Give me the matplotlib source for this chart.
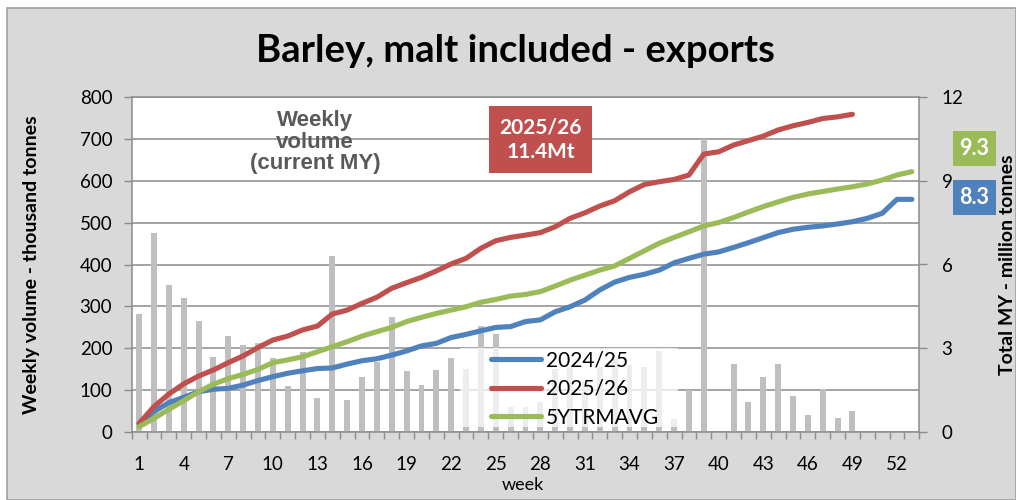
import matplotlib
matplotlib.use("Agg")
import matplotlib.pyplot as plt
from matplotlib.patches import Rectangle
from matplotlib.lines import Line2D
from matplotlib.ticker import FixedLocator

plt.rcParams['font.family'] = ['Lato', 'DejaVu Sans']

# ---------------- data ----------------
weeks = list(range(1, 54))
bar_weeks = list(range(1, 50))
weekly_2025_26 = [282, 474, 351, 320, 266, 180, 230, 207, 214, 176,
                  110, 191, 81, 420, 77, 131, 168, 274, 146, 113,
                  148, 176, 152, 253, 234, 61, 61, 73, 150, 155,
                  120, 156, 174, 160, 156, 194, 31, 101, 700, 0,
                  164, 73, 131, 163, 87, 41, 104, 33, 51]
cum_2024_25 = [0.32, 0.74, 1.06, 1.25, 1.45, 1.54, 1.57, 1.69, 1.85, 1.99,
               2.11, 2.20, 2.28, 2.30, 2.44, 2.56, 2.63, 2.76, 2.91, 3.09,
               3.18, 3.39, 3.50, 3.63, 3.75, 3.78, 3.96, 4.02, 4.31, 4.49,
               4.73, 5.09, 5.37, 5.54, 5.65, 5.80, 6.06, 6.22, 6.37, 6.45,
               6.61, 6.78, 6.96, 7.14, 7.26, 7.33, 7.38, 7.45, 7.53, 7.65,
               7.83, 8.33, 8.33]
cum_2025_26 = [0.32, 0.92, 1.37, 1.73, 2.01, 2.23, 2.49, 2.73, 3.03, 3.30,
               3.44, 3.66, 3.80, 4.23, 4.37, 4.61, 4.83, 5.15, 5.35, 5.54,
               5.77, 6.02, 6.22, 6.58, 6.85, 6.97, 7.05, 7.14, 7.35, 7.65,
               7.85, 8.09, 8.28, 8.60, 8.86, 8.96, 9.04, 9.20, 9.95, 10.03,
               10.27, 10.43, 10.59, 10.81, 10.96, 11.08, 11.22, 11.28, 11.37]
cum_5yr_avg = [0.20, 0.50, 0.82, 1.13, 1.45, 1.72, 1.92, 2.07, 2.25, 2.49,
               2.59, 2.70, 2.88, 3.06, 3.24, 3.44, 3.60, 3.75, 3.96, 4.11,
               4.25, 4.37, 4.49, 4.65, 4.75, 4.87, 4.93, 5.03, 5.23, 5.44,
               5.62, 5.80, 5.95, 6.22, 6.49, 6.76, 6.97, 7.17, 7.38, 7.50,
               7.68, 7.88, 8.07, 8.24, 8.40, 8.52, 8.61, 8.70, 8.78, 8.88,
               9.02, 9.20, 9.32]
xtick_values = list(range(1, 53, 3))
xtick_labels = [str(v) for v in xtick_values]
left_ticks = [0, 100, 200, 300, 400, 500, 600, 700, 800]
right_ticks = [0, 3, 6, 9, 12]
series_names = ['2024/25', '2025/26', '5YTRMAVG']
box_2025 = '2025/26\n11.4Mt'
end_5yr = '9.3'
end_2024 = '8.3'

BLUE, RED, GREEN = '#4f81bd', '#c0504d', '#9bbb59'
GRID = '#8c8c8c'

# ---------------- figure ----------------
W, H = 1016, 500
fig = plt.figure(figsize=(W / 100, H / 100), dpi=100, facecolor='white')

def fx(x):
    return x / W

def fy(y):
    return 1 - y / H

fig.patches.append(Rectangle((fx(7), 0), 1 - fx(7), fy(8), transform=fig.transFigure,
                             facecolor='#d9d9d9', edgecolor='#a0a0a0', lw=1.2, zorder=-10))

L, R, T, B = 131.7, 919.3, 96.7, 432.3
ax = fig.add_axes([fx(L), fy(B), (R - L) / W, (B - T) / H])
ax.set_facecolor('white')
ax.bar(bar_weeks, weekly_2025_26, width=0.4, color='#bfbfbf', zorder=2)
ax.set_xlim(0.5, 53.5)
ax.set_ylim(0, 800)
ax.set_yticks(left_ticks)
ax.yaxis.grid(True, color=GRID, lw=1.1, zorder=0)
ax.set_axisbelow(True)
ax.xaxis.set_major_locator(FixedLocator(xtick_values))
ax.set_xticklabels(xtick_labels)
ax.xaxis.set_minor_locator(FixedLocator([w + 0.5 for w in range(0, 54)]))
for s in ax.spines.values():
    s.set_color(GRID)
    s.set_linewidth(1.1)

ax2 = ax.twinx()
ax2.set_ylim(0, 12)
ax2.set_yticks(right_ticks)
for s in ax2.spines.values():
    s.set_visible(False)
lw = 3.7
ax2.plot(weeks, cum_2024_25, color=BLUE, lw=lw, solid_capstyle='round', zorder=3)
ax2.plot(bar_weeks, cum_2025_26, color=RED, lw=lw, solid_capstyle='round', zorder=3)
ax2.plot(weeks, cum_5yr_avg, color=GREEN, lw=lw, solid_capstyle='round', zorder=3)

# tick styling (after twinx)
ax.tick_params(axis='x', which='minor', length=5, color=GRID, width=1)
ax.tick_params(axis='x', which='major', length=0, pad=17, labelsize=13.5)
ax.tick_params(axis='y', length=6, color=GRID, width=1, pad=8, labelsize=13.5)
ax2.tick_params(axis='y', length=6, color=GRID, width=1, pad=10, labelsize=13.5)

ax.set_xlabel('week', fontsize=13)
ax.xaxis.set_label_coords(((523 - L) / (R - L)), (B - 477) / (B - T))
ax.set_ylabel('Weekly volume - thousand tonnes', fontsize=14, fontweight='bold')
ax.yaxis.set_label_coords((40 - L) / (R - L), 0.5)
ax2.set_ylabel('Total MY - million tonnes', fontsize=14, fontweight='bold')
ax2.yaxis.set_label_coords((999 - L) / (R - L), 0.5)

# legend background (semi-transparent white box)
ax2.add_patch(Rectangle(((460 - L) / (R - L), (B - 427) / (B - T)),
                        (678 - 460) / (R - L), (427 - 348) / (B - T),
                        transform=ax2.transAxes, facecolor='white', alpha=0.72,
                        edgecolor='none', zorder=4))
handles = [Line2D([], [], color=c, lw=lw, solid_capstyle='round') for c in (BLUE, RED, GREEN)]
leg = ax2.legend(handles, series_names, loc='upper left',
                 bbox_to_anchor=((489 - L) / (R - L), (B - 348) / (B - T)),
                 frameon=False, fontsize=15, handlelength=2.4, handletextpad=0.25,
                 labelspacing=0.42, borderpad=0.1, borderaxespad=0)
leg.set_zorder(5)

# title
fig.text(fx(515), fy(51), 'Barley, malt included - exports', ha='center', va='center',
         fontsize=27.5, fontweight='bold')

# "Weekly volume (current MY)"
fig.text(fx(315), fy(142), 'Weekly\nvolume\n(current MY)', ha='center', va='center',
         fontsize=16, fontweight='bold', color='#595959', family='Liberation Sans',
         linespacing=1.05)

# red label box
fig.patches.append(Rectangle((fx(489), fy(172.7)), (592 - 489) / W, (172.7 - 106) / H,
                             transform=fig.transFigure, facecolor=RED, edgecolor='none'))
fig.text(fx(540.5), fy(139.5), box_2025, ha='center', va='center', fontsize=15,
         fontweight='bold', color='white', linespacing=1.25)

# end value boxes
fig.patches.append(Rectangle((fx(953), fy(166)), (996 - 953) / W, (166 - 131) / H,
                             transform=fig.transFigure, facecolor=GREEN, edgecolor='none'))
fig.text(fx(974.5), fy(148.5), end_5yr, ha='center', va='center', fontsize=15.5,
         fontweight='bold', color='white')
fig.patches.append(Rectangle((fx(953), fy(215)), (996 - 953) / W, (215 - 180) / H,
                             transform=fig.transFigure, facecolor=BLUE, edgecolor='none'))
fig.text(fx(974.5), fy(197.5), end_2024, ha='center', va='center', fontsize=15.5,
         fontweight='bold', color='white')

fig.savefig('out.png', dpi=100, facecolor=fig.get_facecolor())
